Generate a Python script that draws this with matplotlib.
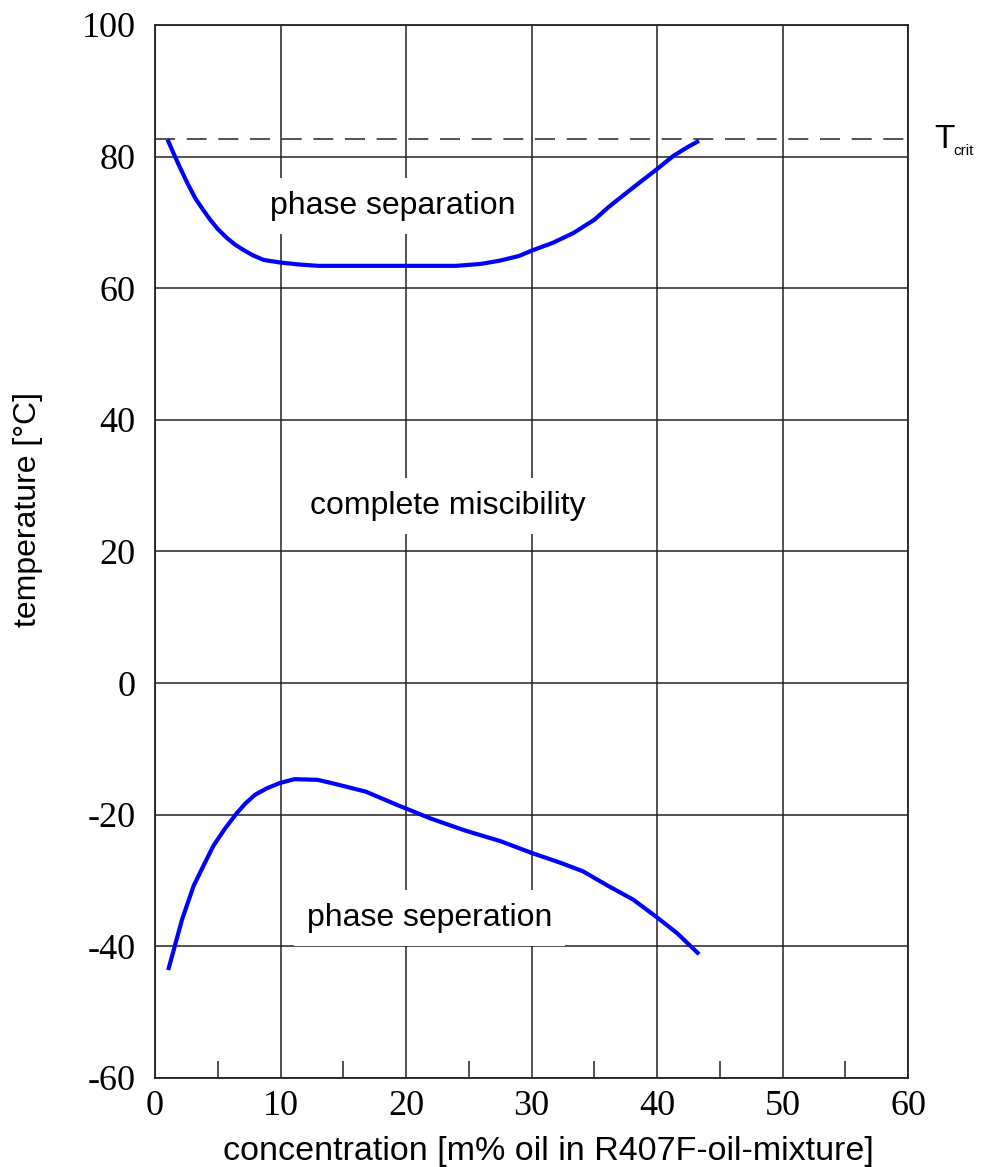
import matplotlib
matplotlib.use("Agg")
import matplotlib.pyplot as plt
from matplotlib.ticker import MultipleLocator

plt.rcParams["axes.unicode_minus"] = False

# upper miscibility gap (phase separation above)
upper_x = [1.0, 1.5, 2.0, 2.6, 3.2, 3.8, 4.4, 5.0, 5.75, 6.4, 7.06, 7.8, 8.65,
           10.0, 11.5, 13.0, 16.0, 20.0, 24.0, 26.0, 27.5, 29.0, 30.0, 31.7,
           33.35, 35.0, 36.25, 38.1, 40.0, 41.3, 42.4, 43.35]
upper_y = [82.6, 80.4, 78.3, 75.9, 73.7, 72.0, 70.4, 69.0, 67.6, 66.6, 65.8,
           65.0, 64.3, 63.9, 63.6, 63.4, 63.4, 63.4, 63.4, 63.7, 64.2, 64.9,
           65.7, 66.9, 68.4, 70.4, 72.5, 75.3, 78.1, 80.1, 81.4, 82.4]

# lower miscibility gap (phase separation below)
lower_x = [1.05, 1.5, 2.16, 3.08, 3.9, 4.66, 5.58, 6.5, 7.2, 7.95, 8.9, 9.92,
           11.1, 12.95, 14.1, 16.8, 19.4, 22.0, 24.7, 27.5, 30.0, 32.3, 34.1,
           36.0, 38.1, 40.0, 41.6, 43.35]
lower_y = [-43.6, -40.5, -35.9, -30.8, -27.6, -24.7, -22.1, -19.8, -18.3, -17.0,
           -16.0, -15.2, -14.6, -14.7, -15.2, -16.5, -18.6, -20.6, -22.4, -24.0,
           -25.8, -27.3, -28.6, -30.7, -32.9, -35.6, -38.0, -41.2]

T_CRIT = 82.6
X_MAX, Y_MIN, Y_MAX = 60, -60, 100

SANS = "Liberation Sans"
SERIF = "Liberation Serif"

fig = plt.figure(figsize=(9.81, 11.67), dpi=100)
ax = fig.add_axes([0.158, 0.0763, 0.7676, 0.9023])

ax.set_xlim(0, X_MAX)
ax.set_ylim(Y_MIN, Y_MAX)
ax.xaxis.set_major_locator(MultipleLocator(10))
ax.xaxis.set_minor_locator(MultipleLocator(5))
ax.yaxis.set_major_locator(MultipleLocator(20))
ax.grid(True, which="major", color="#222222", linewidth=1.1, zorder=0)

ax.tick_params(axis="x", which="major", length=0, pad=9, labelsize=26)
ax.tick_params(axis="x", which="minor", direction="in", length=12,
               width=1.1, color="#222222", top=False)
ax.tick_params(axis="y", which="major", length=0, pad=14, labelsize=26)
for lab in ax.get_xticklabels() + ax.get_yticklabels():
    lab.set_fontfamily(SERIF)
for sp in ax.spines.values():
    sp.set_color("#222222")
    sp.set_linewidth(1.3)

ax.axhline(T_CRIT, color="#333333", linewidth=1.2, dashes=(12, 7), zorder=1)
ax.plot(upper_x, upper_y, color="#0000ff", linewidth=3.0, zorder=3,
        solid_capstyle="butt")
ax.plot(lower_x, lower_y, color="#0000ff", linewidth=3.0, zorder=3,
        solid_capstyle="butt")

box = dict(boxstyle="square,pad=0.4", facecolor="white", edgecolor="none")
ax.text(18.95, 72.5, "phase separation", fontsize=23, family=SANS,
        ha="center", va="center", bbox=box, zorder=2)
ax.text(23.3, 26.9, "complete miscibility", fontsize=23, family=SANS,
        ha="center", va="center", bbox=box, zorder=2)
ax.text(21.9, -35.7, "phase seperation", fontsize=23, family=SANS,
        ha="center", va="center", bbox=box, zorder=2)

ax.text(62.1, T_CRIT, "T", fontsize=24, family=SANS, ha="left",
        va="center", clip_on=False)
ax.text(63.6, T_CRIT - 1.7, "crit", fontsize=11, family=SANS, ha="left",
        va="center", clip_on=False)

ax.set_xlabel("concentration [m% oil in R407F-oil-mixture]", fontsize=24.5,
              family=SANS)
ax.xaxis.set_label_coords(0.523, -0.055)
ax.set_ylabel("temperature [°C]", fontsize=23, family=SANS)
ax.yaxis.set_label_coords(-0.149, 0.540)

fig.savefig("out.png", dpi=100)
